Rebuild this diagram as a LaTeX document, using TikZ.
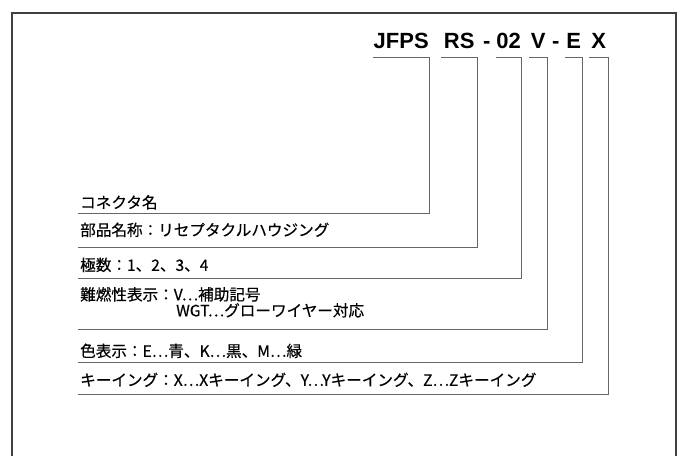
\documentclass[tikz,border=0pt]{standalone}
\usepackage{fontspec}
\newfontfamily\codefont{Liberation Sans}
\newfontfamily\jpfont{Noto Sans CJK JP}[FakeBold=0.4]
\tikzset{
  frame/.style={draw=black!75, line width=1.3pt},
  leader/.style={draw=black!60, line width=1pt},
  code/.style={font=\codefont\bfseries\fontsize{22}{22}\selectfont,
    inner sep=0pt, minimum width=#1, anchor=base west},
  desc/.style={font=\jpfont\fontsize{15.6}{16}\selectfont, inner xsep=2pt,
    inner ysep=#1, text depth=0pt, anchor=south west, align=left},
}

\begin{document}
\begin{tikzpicture}[x=1pt,y=-1pt]
  \useasboundingbox (0,0) rectangle (682,456);
  \draw[frame] (12,456) -- (12,13) -- (676,13) -- (676,456);
  % part number
  \node[code=56pt] (jfps)  at (373,48.5) {JFPS};
  \node[code=36pt] (rs)    at (441,48.5) {RS};
  \node[code=0pt]  (dashA) at (483,48.5) {-};
  \node[code=25pt] (pins)  at (496,48.5) {02};
  \node[code=18pt] (flame) at (529,48.5) {V};
  \node[code=0pt]  (dashB) at (552,48.5) {-};
  \node[code=17pt] (color) at (565,48.5) {E};
  \node[code=19pt] (key)   at (589,48.5) {X};
  % descriptions
  \node[desc=5pt]    (nameD)  at (78,213.5) {コネクタ名};
  \node[desc=11pt]   (partD)  at (78,247) {部品名称：リセプタクルハウジング};
  \node[desc=7.5pt]  (pinsD)  at (78,278.5) {極数：1、2、3、4};
  \node[desc=12.5pt] (flameD) at (78,329) {難燃性表示：V…補助記号\\\hspace{96pt}WGT…グローワイヤー対応};
  \node[desc=5pt]    (colorD) at (78,362) {色表示：E…青、K…黒、M…緑};
  \node[desc=8pt]    (keyD)   at (78,394) {キーイング：X…Xキーイング、Y…Yキーイング、Z…Zキーイング};
  % leaders
  \draw[leader] ([yshift=-8.5pt]jfps.base west) -- ([yshift=-8.5pt]jfps.base east) |- (nameD.south west);
  \draw[leader] ([yshift=-8.5pt]rs.base west) -- ([yshift=-8.5pt]rs.base east) |- (partD.south west);
  \draw[leader] ([yshift=-8.5pt]pins.base west) -- ([yshift=-8.5pt]pins.base east) |- (pinsD.south west);
  \draw[leader] ([yshift=-8.5pt]flame.base west) -- ([yshift=-8.5pt]flame.base east) |- (flameD.south west);
  \draw[leader] ([yshift=-8.5pt]color.base west) -- ([yshift=-8.5pt]color.base east) |- (colorD.south west);
  \draw[leader] ([yshift=-8.5pt]key.base west) -- ([yshift=-8.5pt]key.base east) |- (keyD.south west);
\end{tikzpicture}
\end{document}
